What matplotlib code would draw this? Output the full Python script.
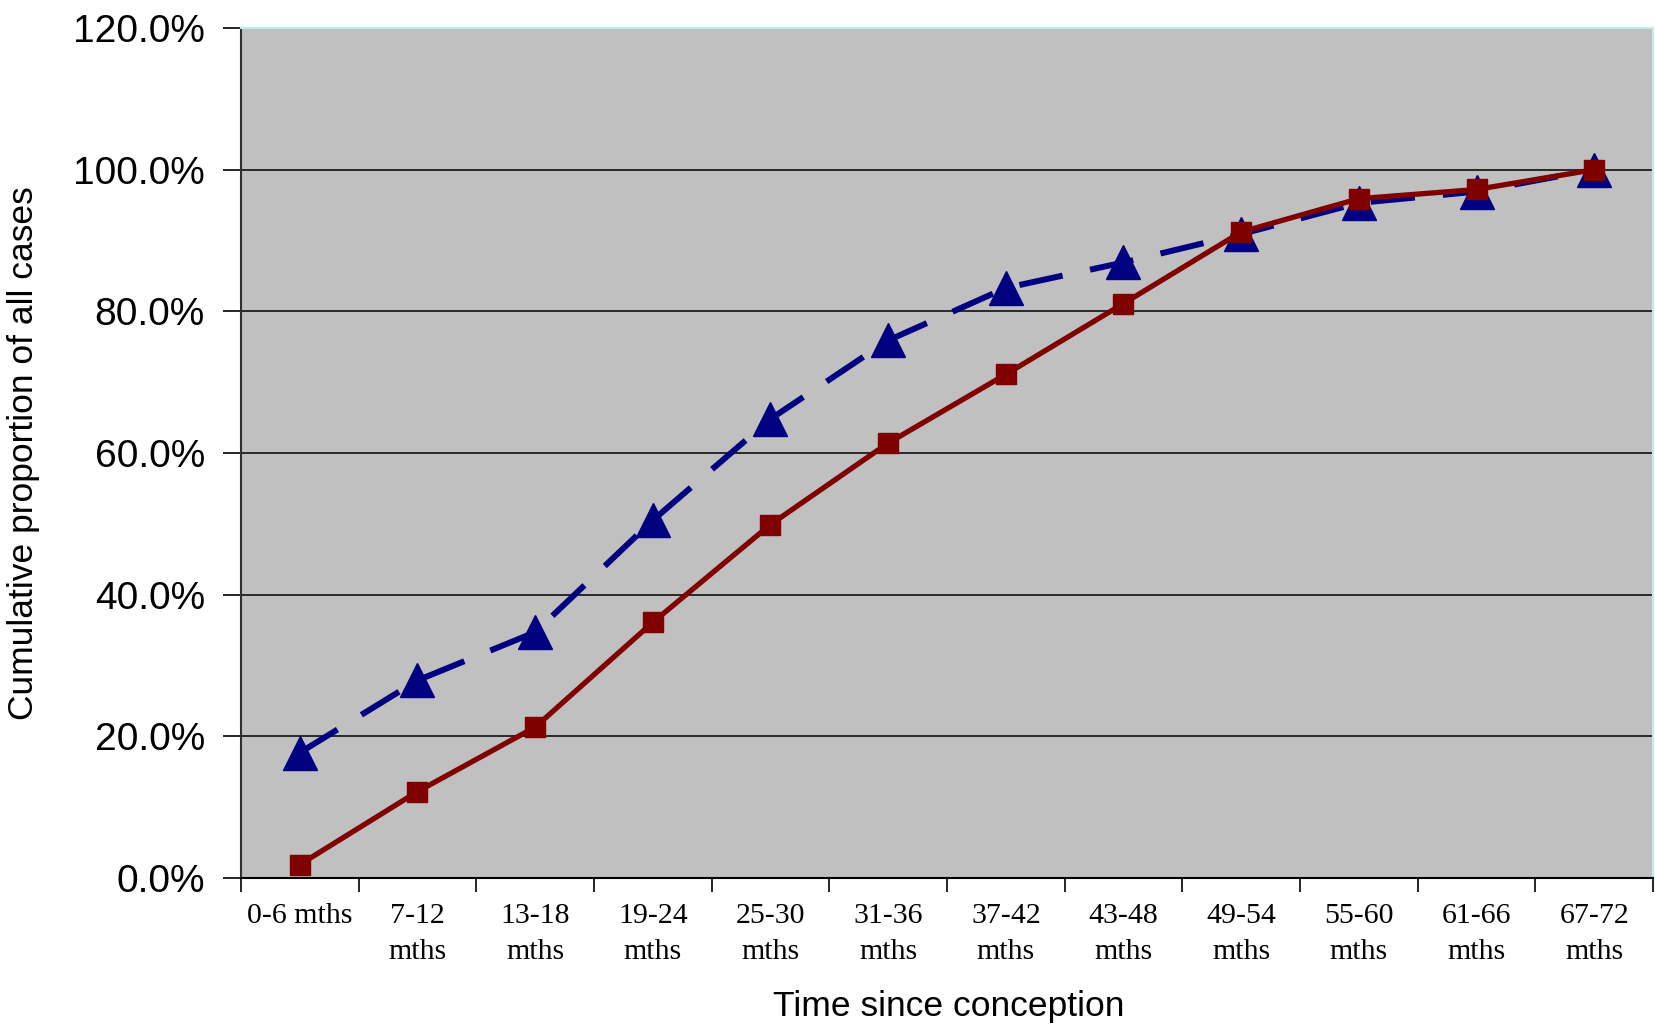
import matplotlib
matplotlib.use("Agg")
import matplotlib.pyplot as plt
from matplotlib.ticker import FixedLocator, PercentFormatter

# data (cumulative %)
categories = ["0-6 mths", "7-12\nmths", "13-18\nmths", "19-24\nmths", "25-30\nmths",
              "31-36\nmths", "37-42\nmths", "43-48\nmths", "49-54\nmths",
              "55-60\nmths", "61-66\nmths", "67-72\nmths"]
series_blue = [17.7, 27.9, 34.7, 50.5, 64.8, 75.9, 83.3, 86.9, 90.9, 95.3, 96.9, 100.0]
series_red = [1.9, 12.2, 21.3, 36.1, 49.9, 61.4, 71.1, 81.1, 91.2, 95.9, 97.2, 100.0]
y_ticks = [0, 20, 40, 60, 80, 100, 120]

fig = plt.figure(figsize=(16.55, 10.32), dpi=100)
ax = fig.add_axes([0.1456, 0.1492, 0.8532, 0.8237])
ax.set_facecolor("#c0c0c0")

x = list(range(len(categories)))
ax.plot(x, series_blue, color="#000080", linewidth=4.3, linestyle=(0, (7.4, 4.7)),
        marker="^", markersize=25, markeredgecolor="#000080", zorder=3)
ax.plot(x, series_red, color="#800000", linewidth=3.8, linestyle="-",
        marker="s", markersize=14, markeredgecolor="#800000", zorder=4)

ax.set_xlim(-0.5, len(categories) - 0.5)
ax.set_ylim(0, 120)

ax.set_yticks(y_ticks)
ax.yaxis.set_major_formatter(PercentFormatter(decimals=1))
ax.yaxis.grid(True, color="black", linewidth=1.1)
ax.set_axisbelow(True)

ax.set_xticks(x)
ax.set_xticklabels(categories, family="Liberation Serif", fontsize=21.5, linespacing=1.5)
ax.xaxis.set_minor_locator(FixedLocator([i - 0.5 for i in range(len(categories) + 1)]))
ax.tick_params(axis="x", which="major", length=0, pad=18)
ax.tick_params(axis="x", which="minor", length=10, width=1.2, direction="out")
ax.tick_params(axis="y", length=13, width=1.2, direction="out", pad=13, labelsize=28)
for lab in ax.get_yticklabels():
    lab.set_family("Liberation Sans")

for s in ["top", "right"]:
    ax.spines[s].set_color("#b8f0f0")
    ax.spines[s].set_linewidth(1.5)
ax.spines["left"].set_color("#303030")
ax.spines["bottom"].set_color("black")
ax.spines["left"].set_linewidth(1.5)
ax.spines["bottom"].set_linewidth(1.5)

ax.set_xlabel("Time since conception", family="Liberation Sans", fontsize=25.5)
ax.xaxis.set_label_coords(0.501, -0.151)
ax.xaxis.label.set_va("center")
ax.set_ylabel("Cumulative proportion of all cases", family="Liberation Sans", fontsize=25.5)
ax.yaxis.set_label_coords(-0.154, 0.5)
ax.yaxis.label.set_va("center")

fig.savefig("out.png", dpi=100)
